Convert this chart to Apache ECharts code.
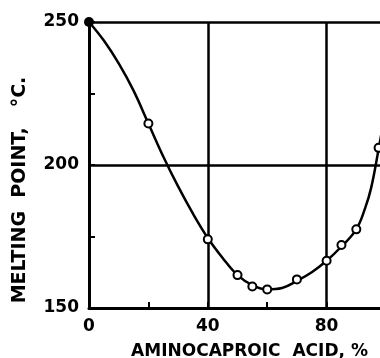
<!DOCTYPE html>
<html>
<head>
<meta charset="utf-8">
<script src="https://cdn.jsdelivr.net/npm/echarts@6/dist/echarts.min.js"></script>
<style>
  html, body { margin: 0; padding: 0; background: #fff; }
  #area { width: 380px; height: 358px; }
</style>
</head>
<body>
<div id="area"></div>
<script>
// curve
var curveX = [0, 5, 10, 15, 20, 25, 30, 35, 40, 45, 50, 55, 60, 65, 70, 75, 80, 85, 90, 93, 95, 97.5, 100];
var curveY = [250, 243.5, 235.5, 226, 214.5, 203, 192.5, 183, 174.5, 167.5, 161.5, 158, 156.5, 157, 159.5, 162.5, 166.5, 171.5, 177.5, 185, 192, 205.5, 220];
// measured points (open circles)
var pointX = [20, 40, 50, 55, 60, 70, 80, 85, 90, 97.5];
var pointY = [214.5, 174, 161.5, 157.5, 156.5, 160, 166.5, 172, 177.5, 206];
// the filled dot at 0 %
var dotX = [0];
var dotY = [250];
var xTicks = [0, 40, 80];
var yTicks = [150, 200, 250];

function pairs(xs, ys) {
  return xs.map(function (x, i) { return [x, ys[i]]; });
}

var font = '"DejaVu Sans", sans-serif';
var ink = '#000';

// small inward ticks (20, 60 / 175, 225) come from a second, bare axis
function minorAxis(min, max, step, pos) {
  return {
    type: 'value', min: min, max: max, interval: step, position: pos,
    axisLine: { show: false },
    axisTick: { show: true, inside: true, length: 6, lineStyle: { color: ink, width: 2 } },
    axisLabel: { show: false },
    splitLine: { show: false }
  };
}

var myChart = echarts.init(document.getElementById('area'));
var option = {
  animation: false,
  grid: { left: 89, top: 22, right: -6, bottom: 50, outerBoundsMode: 'none', containLabel: false },
  xAxis: [{
    type: 'value',
    min: 0,
    max: 100,
    interval: 40,
    name: 'AMINOCAPROIC  ACID, %',
    nameLocation: 'middle',
    nameGap: 35,
    nameTextStyle: { fontFamily: font, fontWeight: 'bold', fontSize: 17, color: ink, padding: [0, 0, 0, 24] },
    axisLine: { lineStyle: { color: ink, width: 3 } },
    axisTick: { show: false },
    splitLine: { show: true, lineStyle: { color: ink, width: 2.5 } },
    axisLabel: {
      margin: 10,
      fontFamily: font, fontWeight: 'bold', fontSize: 17, color: ink,
      formatter: function (v) { return xTicks.indexOf(v) >= 0 ? String(v) : ''; }
    }
  }, minorAxis(0, 100, 20, 'bottom')],
  yAxis: [{
    type: 'value',
    min: 150,
    max: 250,
    interval: 50,
    name: 'MELTING  POINT,   °C.',
    nameLocation: 'middle',
    nameGap: 59,
    nameTextStyle: { fontFamily: font, fontWeight: 'bold', fontSize: 19, color: ink, padding: [0, 50, 0, 0] },
    axisLine: { show: true, lineStyle: { color: ink, width: 3 } },
    axisTick: { show: false },
    splitLine: { show: true, lineStyle: { color: ink, width: 2.5 } },
    axisLabel: {
      margin: 10,
      fontFamily: font, fontWeight: 'bold', fontSize: 17, color: ink,
      formatter: function (v) { return yTicks.indexOf(v) >= 0 ? String(v) : ''; }
    }
  }, minorAxis(150, 250, 25, 'left')],
  series: [
    {
      type: 'line',
      data: pairs(curveX, curveY),
      smooth: 0.4,
      showSymbol: false,
      lineStyle: { color: ink, width: 2.5 },
      z: 3
    },
    {
      type: 'scatter',
      data: pairs(pointX, pointY),
      symbol: 'circle',
      symbolSize: 8,
      itemStyle: { color: '#fff', borderColor: ink, borderWidth: 2, opacity: 1 },
      z: 4
    },
    {
      type: 'scatter',
      data: pairs(dotX, dotY),
      symbol: 'circle',
      symbolSize: 10,
      itemStyle: { color: ink, opacity: 1 },
      z: 4
    }
  ]
};
myChart.setOption(option);
window.addEventListener('resize', function () {
  myChart.resize();
}, false);
</script>
</body>
</html>
